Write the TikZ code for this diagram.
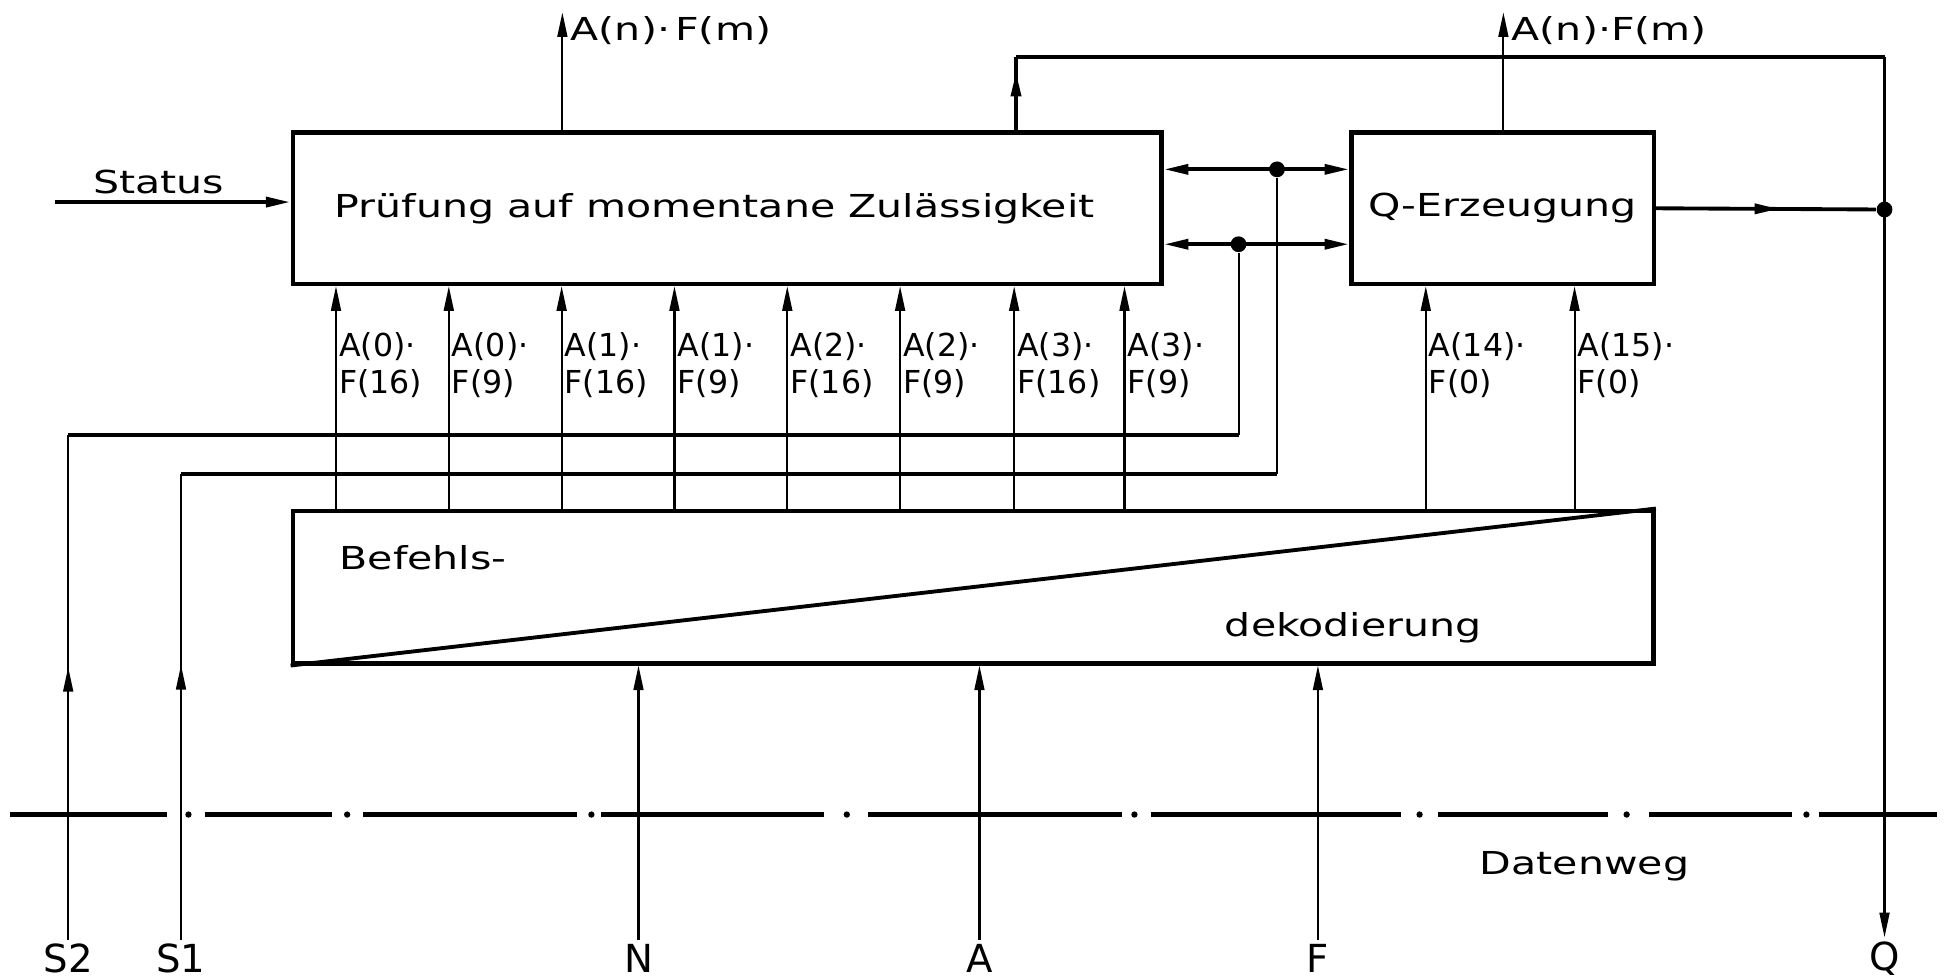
\documentclass[tikz,border=0pt]{standalone}
\usepackage{fontspec}
\setmainfont{DejaVu Sans}
\newfontfamily\breit[FakeStretch=1.3]{DejaVu Sans}
\usetikzlibrary{arrows.meta,decorations.markings}

\begin{document}
\begin{tikzpicture}[x=0.0124cm, y=-0.0124cm,
    block/.style={draw, line width=1.3pt, inner sep=0pt},
    pfeil/.style={-{Triangle[length=7pt,width=2.8pt]}},
    doppel/.style={{Triangle[length=7pt,width=2.8pt]}-{Triangle[length=7pt,width=2.8pt]}},
    mitte/.style={postaction={decorate}, decoration={markings, mark=at position #1 with {\arrow{Triangle[length=7pt,width=2.8pt]}}}},
    signal/.style={line width=0.6pt},
    bus/.style={line width=1.1pt},
    achse/.style={line width=1.3pt},
    punkt/.style={circle, fill, inner sep=0pt, minimum size=4.5pt},
    gross/.style={font=\breit\fontsize{9}{11}\selectfont},
    klein/.style={font=\fontsize{9}{10.5}\selectfont, align=left, inner sep=0pt, anchor=north west},
    anschluss/.style={font=\fontsize{11}{13}\selectfont, inner sep=1pt}]
    \useasboundingbox (0,0) rectangle (1568,790);

    % Blocks
    \node[block, gross, minimum width=8.692cm, minimum height=1.513cm] (pruef) at (586.5,168) {\hspace*{-0.25cm}Prüfung auf momentane Zulässigkeit};
    \node[block, gross, minimum width=3.026cm, minimum height=1.513cm] (qerz) at (1212,168) {Q-Erzeugung};
    \node[block, minimum width=13.615cm, minimum height=1.525cm] (dek) at (785,473.5) {};
    \draw[bus] (dek.south west) -- (dek.north east);
    \node[gross, anchor=west] (befehl) at (264,450) {Befehls-};
    \node[gross, anchor=west] (dekod) at (978,506) {dekodierung};

    % Outputs on top
    \coordinate (aus1) at (453.6,10);
    \coordinate (aus2) at (1212.6,10);
    \draw[signal, pfeil] (pruef.north -| aus1) -- (aus1);
    \draw[signal, pfeil] (qerz.north -| aus2) -- (aus2);
    \node[gross, anchor=west, inner sep=1pt] (aus1l) at (457,25) {A(n)·\,F(m)};
    \node[gross, anchor=west, inner sep=1pt] (aus2l) at (1216,25) {A(n)·F(m)};

    % Status input
    \node[gross] (status) at (128,147) {Status};
    \coordinate (statin) at (44,163);
    \draw[bus, pfeil] (statin) -- (pruef.west |- statin);

    % Connections between the two upper blocks
    \coordinate (b1) at (1030,136.6);
    \coordinate (b2) at (999,197);
    \draw[bus, doppel] (pruef.east |- b1) -- (qerz.west |- b1);
    \draw[bus, doppel] (pruef.east |- b2) -- (qerz.west |- b2);
    \node[punkt] (p1) at (b1) {};
    \node[punkt] (p2) at (b2) {};

    % Decoder outputs
    \foreach \x/\a/\f in {271/0/16, 362/0/9, 453/1/16, 544/1/9, 635/2/16, 726/2/9, 818/3/16, 907/3/9}{
        \coordinate (c) at (\x,0);
        \draw[signal, pfeil] (dek.north -| c) -- (pruef.south -| c);
        \node[klein] at (\x+2,268) {A(\a)·\\F(\f)};
    }
    \foreach \x/\a in {1150/14, 1270/15}{
        \coordinate (c) at (\x,0);
        \draw[signal, pfeil] (dek.north -| c) -- (qerz.south -| c);
        \node[klein] at (\x+2,268) {A(\a)·\\F(0)};
    }

    % Data path
    \foreach \a/\b in {8/135, 165/268, 293/465, 485/665, 700/905, 928/1130, 1160/1297, 1330/1445, 1467/1562}
        \draw[achse] (\a,657) -- (\b,657);
    \foreach \p in {152, 280, 477, 683, 915, 1145, 1312, 1457}
        \fill (\p,657) circle (0.9pt);
    \node[gross] (datenweg) at (1278,699) {Datenweg};

    % Bus signals
    \node[anschluss] (s2) at (55,773) {S2};
    \node[anschluss] (s1) at (146,773) {S1};
    \node[anschluss] (n) at (515,773) {N};
    \node[anschluss] (a) at (790,773) {A};
    \node[anschluss] (f) at (1063,773) {F};
    \node[anschluss] (q) at (1520,773) {Q};

    \draw[signal, pfeil] (n.north) -- (dek.south -| n);
    \draw[signal, pfeil] (a.north) -- (dek.south -| a);
    \draw[signal, pfeil] (f.north) -- (dek.south -| f);

    % S1 and S2 back to the upper blocks
    \coordinate (s2k) at (55,350.8);
    \coordinate (s1k) at (146,382.5);
    \draw[signal, mitte=0.54] (s2.north) -- (s2k);
    \draw[bus] (s2k) -- (s2k -| p2);
    \draw[signal] (s2k -| p2) -- (p2);
    \draw[signal, mitte=0.59] (s1.north) -- (s1k);
    \draw[bus] (s1k) -- (s1k -| p1);
    \draw[signal] (s1k -| p1) -- (p1);

    % Feedback and Q output
    \coordinate (rk) at (819.5,46);
    \coordinate (qk) at (1520,46);
    \node[punkt] (qp) at (1520,169) {};
    \draw[bus, mitte=0.8] (pruef.north -| rk) -- (rk);
    \draw[bus] (rk) -- (qk);
    \draw[signal, pfeil] (qk) -- (q.north);
    \draw[bus, mitte=0.56] (qerz.east) -- (qp);
\end{tikzpicture}
\end{document}
